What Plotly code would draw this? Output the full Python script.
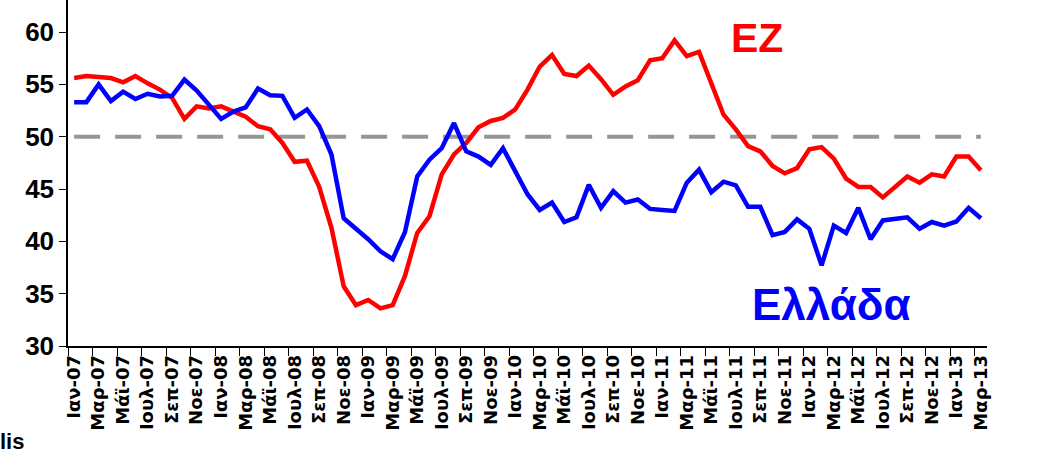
import plotly.graph_objects as go

tick_labels = [
    "Ιαν-07", "Μαρ-07", "Μάϊ-07", "Ιουλ-07", "Σεπ-07", "Νοε-07",
    "Ιαν-08", "Μαρ-08", "Μάϊ-08", "Ιουλ-08", "Σεπ-08", "Νοε-08",
    "Ιαν-09", "Μαρ-09", "Μάϊ-09", "Ιουλ-09", "Σεπ-09", "Νοε-09",
    "Ιαν-10", "Μαρ-10", "Μάϊ-10", "Ιουλ-10", "Σεπ-10", "Νοε-10",
    "Ιαν-11", "Μαρ-11", "Μάϊ-11", "Ιουλ-11", "Σεπ-11", "Νοε-11",
    "Ιαν-12", "Μαρ-12", "Μάϊ-12", "Ιουλ-12", "Σεπ-12", "Νοε-12",
    "Ιαν-13", "Μαρ-13",
]

ez = [
    55.6, 55.8, 55.7, 55.6, 55.2, 55.8, 55.1, 54.5, 53.7, 51.7,
    52.9, 52.7, 52.9, 52.4, 51.9, 51.0, 50.7, 49.4, 47.6, 47.7,
    45.2, 41.3, 35.7, 33.9, 34.4, 33.6, 33.9, 36.7, 40.8, 42.4,
    46.4, 48.3, 49.4, 50.9, 51.5, 51.8, 52.6, 54.5, 56.7, 57.8,
    56.0, 55.8, 56.8, 55.5, 54.0, 54.8, 55.4, 57.3, 57.5, 59.2,
    57.7, 58.1, 55.1, 52.1, 50.7, 49.1, 48.6, 47.2, 46.5, 47.0,
    48.8, 49.0, 47.9, 46.0, 45.2, 45.2, 44.2, 45.2, 46.2, 45.6,
    46.4, 46.2, 48.1, 48.1, 46.8,
]

greece = [
    53.3, 53.3, 55.0, 53.4, 54.3, 53.6, 54.1, 53.85, 53.9, 55.45,
    54.4, 53.0, 51.7, 52.4, 52.8, 54.6, 53.95, 53.9, 51.8, 52.6,
    51.0, 48.3, 42.2, 41.2, 40.2, 39.05, 38.3, 40.9, 46.2, 47.8,
    48.9, 51.3, 48.6, 48.1, 47.3, 48.9, 46.7, 44.5, 43.0, 43.7,
    41.85, 42.3, 45.4, 43.2, 44.8, 43.7, 44.0, 43.1, 43.0, 42.9,
    45.6, 46.85, 44.7, 45.7, 45.35, 43.3, 43.3, 40.6, 40.9, 42.1,
    41.2, 37.7, 41.5, 40.8, 43.2, 40.2, 42.0, 42.1, 42.3, 41.2,
    41.85, 41.5, 41.9, 43.2, 42.2,
]

threshold = 50
y_ticks = [30, 35, 40, 45, 50, 55, 60]

n = len(ez)
x_idx = list(range(n))
label_pos = x_idx[::2]
minor_pos = [p - 0.5 for p in label_pos]

fig = go.Figure()
fig.add_trace(go.Scatter(
    x=[x_idx[0], x_idx[-1]], y=[threshold, threshold], mode="lines",
    line=dict(color="#969696", width=4, dash="26px,15px"),
    hoverinfo="skip", showlegend=False,
))
fig.add_trace(go.Scatter(
    x=x_idx, y=ez, mode="lines", name="EZ",
    line=dict(color="#FF0000", width=4.5), showlegend=False,
))
fig.add_trace(go.Scatter(
    x=x_idx, y=greece, mode="lines", name="Ελλάδα",
    line=dict(color="#0000FF", width=4.5), showlegend=False,
))

fig.add_annotation(
    x=55.7, y=59.4, xref="x", yref="y", text="<b>EZ</b>", showarrow=False,
    font=dict(family="Liberation Sans, Arial", size=41, color="#FF0000"),
    xanchor="center", yanchor="middle",
)
fig.add_annotation(
    x=61.8, y=34.0, xref="x", yref="y", text="<b>Ελλάδα</b>", showarrow=False,
    font=dict(family="Liberation Sans, Arial", size=44, color="#0000FF"),
    xanchor="center", yanchor="middle",
)
fig.add_annotation(
    x=-0.076, y=-0.276, xref="paper", yref="paper", text="<b>lis</b>",
    showarrow=False, xanchor="left", yanchor="middle",
    font=dict(family="Liberation Sans, Arial", size=22, color="#000000"),
)

fig.update_layout(
    width=1045, height=454, autosize=False,
    margin=dict(l=68, r=58, t=0, b=108),
    plot_bgcolor="white", paper_bgcolor="white",
    showlegend=False,
)
fig.update_xaxes(
    range=[-0.5, 74.5], showgrid=False, zeroline=False,
    showline=True, linecolor="#000000", linewidth=1.5,
    tickmode="array", tickvals=label_pos, ticktext=tick_labels,
    ticks="", tickangle=-90,
    tickfont=dict(family="DejaVu Sans", size=18, color="#000000", weight="bold"),
    minor=dict(tickmode="array", tickvals=minor_pos, ticks="outside",
               ticklen=8, tickwidth=1.2, tickcolor="#000000", showgrid=False),
)
fig.update_yaxes(
    range=[30, 63.06], showgrid=False, zeroline=False,
    showline=True, linecolor="#000000", linewidth=1.5,
    tickmode="array", tickvals=y_ticks, ticks="outside", ticklen=7,
    tickwidth=1.2, tickcolor="#000000",
    tickfont=dict(family="Liberation Sans, Arial", size=26, color="#000000", weight="bold"),
)

fig.write_html(
    "out.html",
    config={"displayModeBar": False},
    post_script="document.body.style.margin='0';document.body.style.overflow='hidden';",
)
